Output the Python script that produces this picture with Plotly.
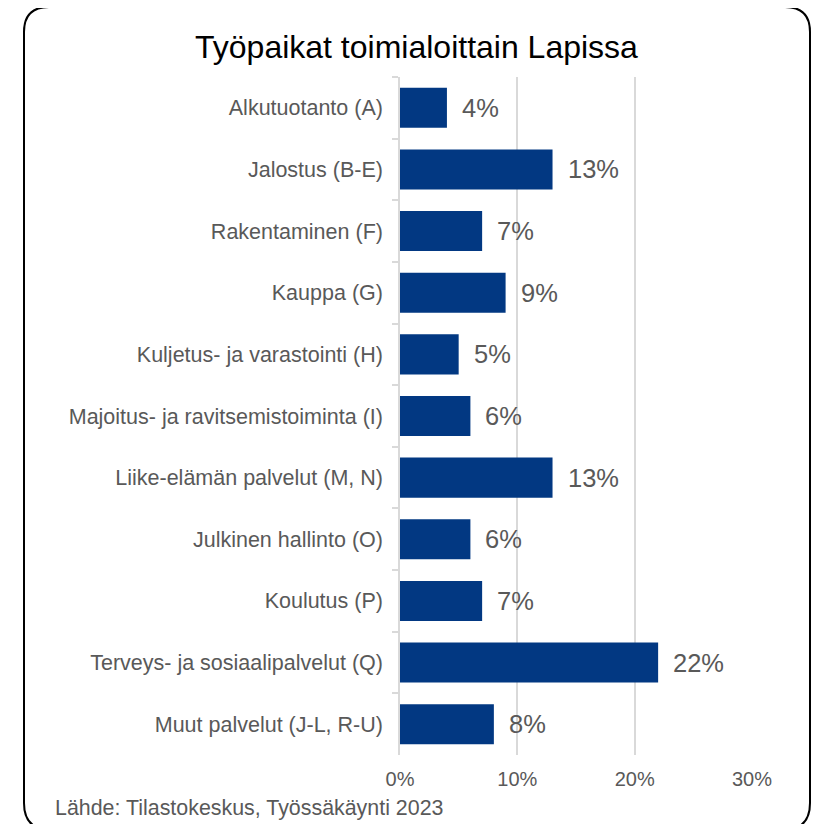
import plotly.graph_objects as go

categories = [
    "Alkutuotanto (A)",
    "Jalostus (B-E)",
    "Rakentaminen (F)",
    "Kauppa (G)",
    "Kuljetus- ja varastointi (H)",
    "Majoitus- ja ravitsemistoiminta (I)",
    "Liike-elämän palvelut (M, N)",
    "Julkinen hallinto (O)",
    "Koulutus (P)",
    "Terveys- ja sosiaalipalvelut (Q)",
    "Muut palvelut (J-L, R-U)",
]
values = [4, 13, 7, 9, 5, 6, 13, 6, 7, 22, 8]
x_ticks = [0, 10, 20, 30]
x_tick_labels = ["0%", "10%", "20%", "30%"]
title_text = "Työpaikat toimialoittain Lapissa"
source_text = "Lähde: Tilastokeskus, Työssäkäynti 2023"

OFF = 8  # page body margin
W, H = 820 - OFF, 824 - OFF
L, T = 400 - OFF, 77 - OFF
PW, PH = 352, 678
R, B = W - L - PW, H - T - PH

def px(x):
    return (x - OFF - L) / PW

def py(y):
    return (T + PH - (y - OFF)) / PH

FONT = "Liberation Sans, Arial, sans-serif"
GREY = "#595959"
BAR = "#023882"

fig = go.Figure(go.Bar(
    x=values, y=categories, orientation="h",
    marker=dict(color=BAR, line=dict(width=0)),
    width=0.65, hoverinfo="skip",
))

for c, v in zip(categories, values):
    fig.add_annotation(
        x=v, y=c, xref="x", yref="y", text=f"{v}%", showarrow=False,
        xanchor="left", yanchor="middle", xshift=13,
        font=dict(family=FONT, size=25.5, color=GREY),
    )

# title
fig.add_annotation(
    x=px(416), y=py(47), xref="paper", yref="paper", text=title_text,
    showarrow=False, xanchor="center", yanchor="middle",
    font=dict(family=FONT, size=32, color="#000000"),
)
# source
fig.add_annotation(
    x=px(53), y=py(808), xref="paper", yref="paper", text=source_text,
    showarrow=False, xanchor="left", yanchor="middle",
    font=dict(family=FONT, size=21.4, color=GREY),
)

# rounded border
x0, x1, y0, y1 = 24, 810, 7, 830
rt, rb = 25, 27
path = (
    f"M {px(x0 + rb)},{py(y1)} "
    f"Q {px(x0)},{py(y1)} {px(x0)},{py(y1 - rb)} "
    f"L {px(x0)},{py(y0 + rt)} "
    f"Q {px(x0)},{py(y0)} {px(x0 + rt)},{py(y0)} "
    f"L {px(x1 - rt)},{py(y0)} "
    f"Q {px(x1)},{py(y0)} {px(x1)},{py(y0 + rt)} "
    f"L {px(x1)},{py(y1 - rb)} "
    f"Q {px(x1)},{py(y1)} {px(x1 - rb)},{py(y1)}"
)
fig.add_shape(type="path", path=path, xref="paper", yref="paper",
              line=dict(color="#000000", width=2), layer="above")

fig.update_layout(
    width=W, height=H,
    margin=dict(l=L, r=R, t=T, b=B, pad=0),
    paper_bgcolor="white", plot_bgcolor="white",
    showlegend=False,
    bargap=0.35,
    xaxis=dict(
        range=[0, 30], tickvals=x_ticks, ticktext=x_tick_labels,
        showgrid=True, gridcolor="#d9d9d9", gridwidth=1.5,
        zeroline=False, showline=False, ticks="",
        tickfont=dict(family=FONT, size=20, color=GREY),
        ticklabelstandoff=10, fixedrange=True,
    ),
    yaxis=dict(
        autorange="reversed", type="category",
        showline=True, linecolor="#d9d9d9", linewidth=1.5,
        ticks="outside", tickson="boundaries", ticklen=6,
        tickcolor="#d9d9d9", tickwidth=1.5,
        showgrid=False,
        tickfont=dict(family=FONT, size=21.5, color=GREY),
        ticklabelstandoff=11, fixedrange=True,
    ),
)

fig.write_html("out.html")
